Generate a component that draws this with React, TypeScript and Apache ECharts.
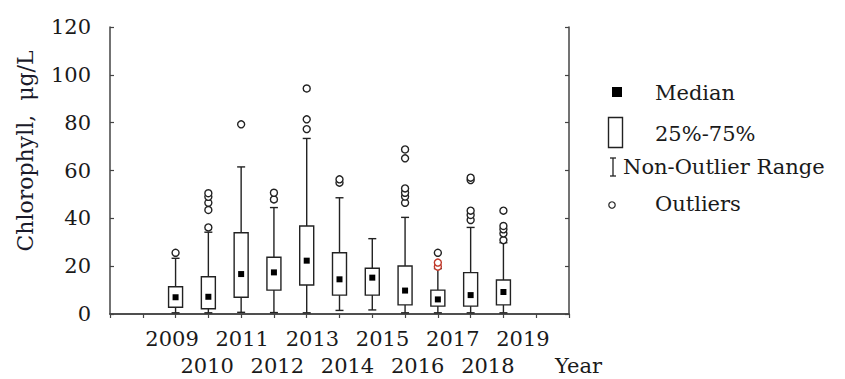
import React, { useEffect, useRef } from "react";
import * as echarts from "echarts";

const years = [2009, 2010, 2011, 2012, 2013, 2014, 2015, 2016, 2017, 2018, 2019];
const yearLabels = ["2009", "2010", "2011", "2012", "2013", "2014", "2015", "2016", "2017", "2018", "2019"];
const whiskerLow = [0.5, 0.5, 0.7, 0.6, 0.5, 1.5, 1.7, 0.5, 0.5, 0.5, 0.5];
const q1 = [2.8, 2.2, 7.0, 10.0, 12.1, 7.9, 7.9, 3.8, 3.3, 3.3, 3.8];
const median = [7.0, 7.2, 16.7, 17.4, 22.3, 14.5, 15.2, 9.8, 6.1, 7.9, 9.2];
const q3 = [11.4, 15.6, 34.0, 23.7, 36.8, 25.6, 19.1, 20.1, 10.0, 17.3, 14.2];
const whiskerHigh = [23.3, 34.2, 61.5, 44.5, 73.4, 48.6, 31.5, 40.4, 19.0, 36.2, 29.8];
const outliers = [
  [25.6],
  [36.2, 43.5, 46.5, 49.0, 50.5],
  [79.3],
  [47.9, 50.7],
  [77.3, 81.4, 94.3],
  [54.9, 56.3],
  [],
  [46.5, 49.1, 50.7, 52.5, 65.1, 68.8],
  [25.6],
  [39.3, 41.4, 43.2, 56.0, 57.0],
  [30.9, 33.7, 35.4, 36.8, 43.2],
];
const redOutliers = [[], [], [], [], [], [], [], [], [19.8, 21.5], [], []];
const yTicks = [0, 20, 40, 60, 80, 100, 120];

const FONT = "DejaVu Serif";
const INK = "#222";

export default function App() {
  const ref = useRef<HTMLDivElement>(null);
  useEffect(() => {
    if (!ref.current) return;
    const chart = echarts.init(ref.current, null, { renderer: "svg" });
    const boxData = years.map((y, i) => [y, whiskerLow[i], q1[i], median[i], q3[i], whiskerHigh[i]]);
    const outData: number[][] = [];
    years.forEach((y, i) => outliers[i].forEach((v) => outData.push([y, v])));
    const redData: number[][] = [];
    years.forEach((y, i) => redOutliers[i].forEach((v) => redData.push([y, v])));

    const ln = (x1: number, y1: number, x2: number, y2: number) => ({
      type: "line",
      shape: { x1, y1, x2, y2 },
      style: { stroke: INK, lineWidth: 1.4 },
    });

    const legendText = (text: string, x: number, y: number) => ({
      type: "text",
      x,
      y,
      style: { text, fill: "#1a1a1a", font: `21px '${FONT}'`, textAlign: "left", textVerticalAlign: "middle" },
    });

    const option: any = {
      animation: false,
      grid: [
        { left: 110, right: 276, top: 27, bottom: 65, outerBoundsMode: "none", containLabel: false },
        { left: 154.5, width: 386, top: 27, bottom: 65, outerBoundsMode: "none", containLabel: false },
      ],
      xAxis: [
        {
          type: "value", gridIndex: 0, min: 2007, max: 2021, interval: 1, position: "bottom",
          axisLine: { show: true, lineStyle: { color: "#444", width: 1.5 } },
          axisTick: { show: false }, axisLabel: { show: false }, splitLine: { show: false },
        },
        {
          type: "value", gridIndex: 0, min: 2007, max: 2021, interval: 1, position: "top",
          axisLine: { show: true, lineStyle: { color: "#444", width: 1.5 } },
          axisTick: { show: true, inside: true, length: 4, lineStyle: { color: "#444", width: 1.2 } },
          axisLabel: { show: false }, splitLine: { show: false },
        },
        {
          type: "category", gridIndex: 1, data: yearLabels, boundaryGap: true, position: "bottom",
          axisLine: { show: false }, axisTick: { show: false }, splitLine: { show: false },
          axisLabel: {
            interval: 0, margin: 11, fontSize: 21, fontFamily: FONT, color: "#1a1a1a", lineHeight: 27,
            formatter: (v: string, i: number) => (i % 2 === 1 ? "\n" + v : v),
          },
        },
      ],
      yAxis: [
        {
          type: "value", gridIndex: 0, min: 0, max: 120, interval: 20, position: "left",
          axisLine: { show: true, lineStyle: { color: "#444", width: 1.5 } },
          axisTick: { show: true, inside: true, length: 4, lineStyle: { color: "#444", width: 1.2 } },
          axisLabel: {
            margin: 19, fontSize: 21, fontFamily: FONT, color: "#1a1a1a",
            formatter: (v: number) => (yTicks.indexOf(v) >= 0 ? String(v) : ""),
          },
          splitLine: { show: false },
        },
        {
          type: "value", gridIndex: 0, min: 0, max: 120, interval: 20, position: "right",
          axisLine: { show: true, lineStyle: { color: "#444", width: 1.5 } },
          axisTick: { show: true, inside: true, length: 4, lineStyle: { color: "#444", width: 1.2 } },
          axisLabel: { show: false }, splitLine: { show: false },
        },
        { type: "value", gridIndex: 1, show: false, min: 0, max: 1 },
      ],
      series: [
        {
          type: "custom",
          xAxisIndex: 0,
          yAxisIndex: 0,
          data: boxData,
          encode: { x: 0, y: [1, 2, 3, 4, 5] },
          clip: false,
          renderItem: (params: any, api: any) => {
            const x = api.value(0);
            const lo = api.coord([x, api.value(1)]);
            const b1 = api.coord([x, api.value(2)]);
            const md = api.coord([x, api.value(3)]);
            const b3 = api.coord([x, api.value(4)]);
            const hi = api.coord([x, api.value(5)]);
            const cx = lo[0];
            const bw = 14;
            const cw = 4;
            const ms = 6;
            return {
              type: "group",
              children: [
                ln(cx, lo[1], cx, b1[1]),
                ln(cx, b3[1], cx, hi[1]),
                ln(cx - cw, hi[1], cx + cw, hi[1]),
                ln(cx - cw, lo[1], cx + cw, lo[1]),
                {
                  type: "rect",
                  shape: { x: cx - bw / 2, y: b3[1], width: bw, height: b1[1] - b3[1] },
                  style: { fill: "#fff", stroke: INK, lineWidth: 1.4 },
                },
                {
                  type: "rect",
                  shape: { x: cx - ms / 2, y: md[1] - ms / 2, width: ms, height: ms },
                  style: { fill: "#000" },
                },
              ],
            };
          },
        },
        {
          type: "scatter",
          xAxisIndex: 0,
          yAxisIndex: 0,
          data: outData,
          symbol: "circle",
          symbolSize: 7,
          itemStyle: { color: "#fff", borderColor: INK, borderWidth: 1.4, opacity: 1 },
        },
        {
          type: "scatter",
          xAxisIndex: 0,
          yAxisIndex: 0,
          data: redData,
          symbol: "circle",
          symbolSize: 7,
          itemStyle: { color: "#fff", borderColor: "#c0392b", borderWidth: 1.4, opacity: 1 },
        },
      ],
      graphic: [
        {
          type: "text",
          x: 25,
          y: 151,
          rotation: Math.PI / 2,
          style: {
            text: "Chlorophyll,  μg/L", fill: "#1a1a2a", font: `22px '${FONT}'`,
            textAlign: "center", textVerticalAlign: "middle",
          },
        },
        {
          type: "text",
          x: 555,
          y: 366,
          style: { text: "Year", fill: "#1a1a1a", font: `21px '${FONT}'`, textAlign: "left", textVerticalAlign: "middle" },
        },
        { type: "rect", shape: { x: 612, y: 87, width: 10, height: 10 }, style: { fill: "#000" } },
        legendText("Median", 655, 93),
        { type: "rect", shape: { x: 608.5, y: 117.5, width: 14, height: 30 }, style: { fill: "#fff", stroke: INK, lineWidth: 1.4 } },
        legendText("25%-75%", 655, 134),
        { type: "line", shape: { x1: 613, y1: 158, x2: 613, y2: 176 }, style: { stroke: INK, lineWidth: 1.3 } },
        { type: "line", shape: { x1: 610, y1: 158, x2: 616, y2: 158 }, style: { stroke: INK, lineWidth: 1.3 } },
        { type: "line", shape: { x1: 610, y1: 176, x2: 616, y2: 176 }, style: { stroke: INK, lineWidth: 1.3 } },
        legendText("Non-Outlier Range", 623, 167),
        { type: "circle", shape: { cx: 612, cy: 205, r: 3.2 }, style: { fill: "#fff", stroke: INK, lineWidth: 1.2 } },
        legendText("Outliers", 655, 204),
      ],
    };
    chart.setOption(option);
    return () => chart.dispose();
  }, []);
  return <div ref={ref} style={{ position: "absolute", left: 0, top: 0, width: 845, height: 379 }} />;
}
